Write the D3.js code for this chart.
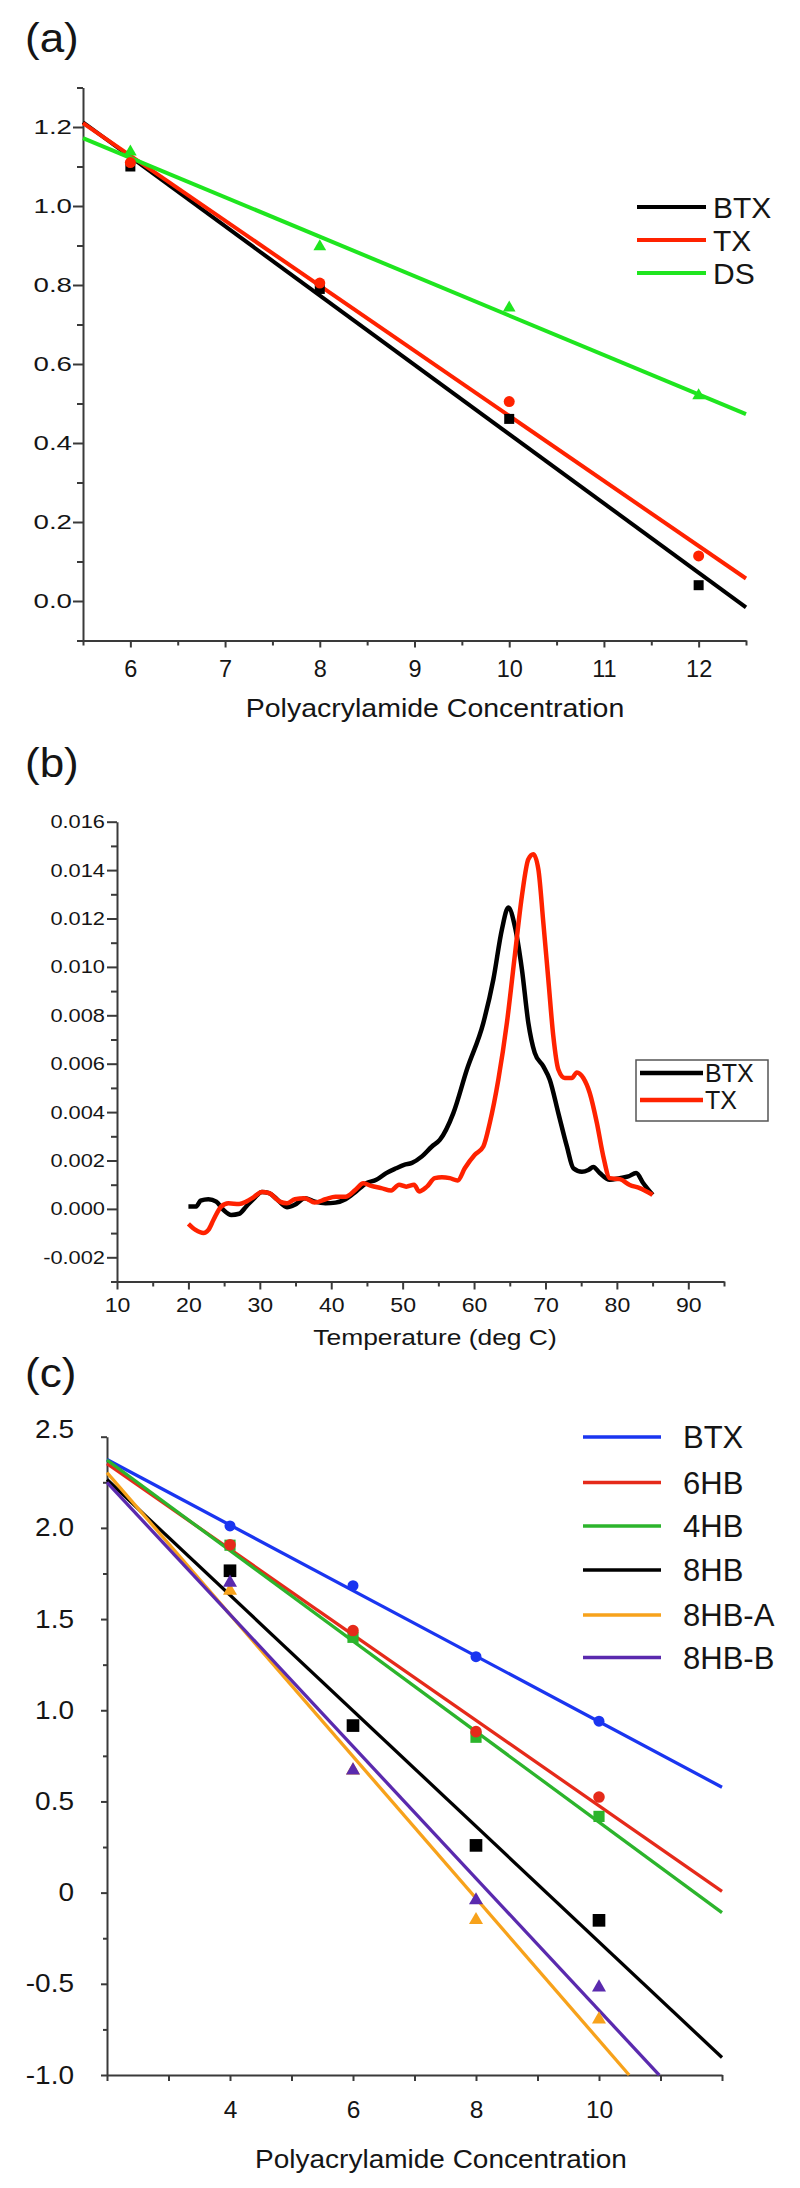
<!DOCTYPE html>
<html><head><meta charset="utf-8">
<script src="https://cdn.jsdelivr.net/npm/d3@7"></script>
<style>
html,body{margin:0;padding:0;background:#fff;}
svg{display:block;font-family:"Liberation Sans",Arial,sans-serif;}
</style></head><body>
<svg id="chart" width="800" height="2188"></svg>
<script>
// ================= DATA =================
// Panel (a)
const aConc = [6, 8, 10, 12];
const aBTX = [1.10, 0.79, 0.461, 0.04];
const aTX  = [1.11, 0.805, 0.505, 0.114];
const aDS  = [1.137, 0.897, 0.742, 0.52];
const aFitX   = [5.5, 12.5];
const aFitBTX = [1.212, -0.016];
const aFitTX  = [1.210, 0.057];
const aFitDS  = [1.172, 0.473];
const aNames = ["BTX", "TX", "DS"];
const aYTicks = [0.0, 0.2, 0.4, 0.6, 0.8, 1.0, 1.2];
const aYTickLabels = ["0.0", "0.2", "0.4", "0.6", "0.8", "1.0", "1.2"];
const aYMinor = [-0.1, 0.1, 0.3, 0.5, 0.7, 0.9, 1.1, 1.3];
const aXTicks = [6, 7, 8, 9, 10, 11, 12];
const aXMinor = [5.5, 6.5, 7.5, 8.5, 9.5, 10.5, 11.5, 12.5];

// Panel (b)
const bTempBTX = [20, 21.1, 21.7, 22.8, 23.9, 24.9, 26, 27.1, 28.1, 29.2, 30.3, 31.3, 32.4, 33.8, 34.9, 36.3, 37.7, 39.2, 40.6, 42, 43.4, 44.9, 46.3, 47.7, 49.1, 50.2, 51.3, 52.7, 54.1, 55.2, 57.1, 59.0, 61.3, 62.7, 63.9, 64.8, 65.7, 66.7, 67.6, 68.5, 69.7, 70.6, 71.8, 73.0, 73.9, 75.1, 76.0, 76.7, 77.6, 79.0, 80.4, 81.6, 82.7, 83.7, 85];
const bBTX = [0.0001, 0.0001, 0.00034, 0.0004, 0.0003, -0.00004, -0.00025, -0.0002, 0.0001, 0.00044, 0.0007, 0.00065, 0.0004, 0.00007, 0.00017, 0.00044, 0.0003, 0.00023, 0.00026, 0.0004, 0.0007, 0.00106, 0.0012, 0.00148, 0.00168, 0.00182, 0.0019, 0.00217, 0.00258, 0.00285, 0.00396, 0.00576, 0.00769, 0.00948, 0.01155, 0.01245, 0.01169, 0.0099, 0.00769, 0.00645, 0.00589, 0.00534, 0.00396, 0.00258, 0.00168, 0.00154, 0.00161, 0.00173, 0.00148, 0.0012, 0.00127, 0.00134, 0.00148, 0.00106, 0.00058];
const bTempTX = [20, 21, 22.1, 22.8, 23.5, 24.6, 25.6, 27.1, 28.1, 29.2, 30.3, 31.3, 32.8, 33.8, 34.9, 36.3, 37.7, 39.2, 40.6, 42, 43.4, 44.5, 45.6, 47, 48.4, 49.5, 50.5, 51.6, 52.3, 53.4, 54.5, 55.5, 56.6, 57.7, 58.7, 60.1, 61.3, 62.2, 63.4, 64.6, 65.7, 66.7, 67.6, 68.3, 69.0, 69.7, 70.4, 71.1, 71.8, 72.7, 73.7, 74.4, 75.3, 76.2, 77.2, 78.1, 79.0, 80.4, 81.8, 83.2, 85];
const bTX = [-0.00062, -0.00087, -0.001, -0.00087, -0.00046, 0.0001, 0.00023, 0.0002, 0.0003, 0.0005, 0.0007, 0.00065, 0.0003, 0.00023, 0.0004, 0.00044, 0.00026, 0.0004, 0.0005, 0.0005, 0.00079, 0.00106, 0.00095, 0.00086, 0.00076, 0.001, 0.00092, 0.001, 0.00072, 0.00092, 0.00127, 0.00131, 0.00127, 0.00117, 0.00168, 0.00224, 0.00258, 0.00355, 0.00534, 0.00769, 0.01045, 0.01293, 0.01445, 0.01466, 0.01404, 0.01183, 0.00948, 0.00713, 0.00576, 0.00541, 0.00541, 0.00564, 0.00541, 0.00479, 0.00355, 0.00217, 0.00127, 0.00123, 0.00099, 0.00086, 0.00058];
const bNames = ["BTX", "TX"];
const bYTicks = [-0.002, 0, 0.002, 0.004, 0.006, 0.008, 0.010, 0.012, 0.014, 0.016];
const bYTickLabels = ["-0.002", "0.000", "0.002", "0.004", "0.006", "0.008", "0.010", "0.012", "0.014", "0.016"];
const bYMinor = [-0.003, -0.001, 0.001, 0.003, 0.005, 0.007, 0.009, 0.011, 0.013, 0.015];
const bXTicks = [10, 20, 30, 40, 50, 60, 70, 80, 90];
const bXMinor = [15, 25, 35, 45, 55, 65, 75, 85, 95];

// Panel (c)
const cConc = [4, 6, 8, 10];
const cBTX  = [2.011, 1.683, 1.294, 0.94];
const c6HB  = [1.907, 1.437, 0.883, 0.524];
const c4HB  = [1.905, 1.40, 0.852, 0.418];
const c8HB  = [1.765, 0.916, 0.259, -0.152];
const c8HBA = [1.655, 0.67, -0.15, -0.695];
const c8HBB = [1.70, 0.67, -0.042, -0.52];
const cNames = ["BTX", "6HB", "4HB", "8HB", "8HB-A", "8HB-B"];
const cFitX0 = [2, 2, 2, 2, 2, 2];
const cFitX1 = [12, 12, 12, 12, 10.49, 10.98];
const cFitY0 = [2.375, 2.352, 2.372, 2.265, 2.303, 2.249];
const cFitY1 = [0.578, 0.007, -0.11, -0.904, -1.0, -1.0];
const cYTicks = [-1.0, -0.5, 0, 0.5, 1.0, 1.5, 2.0, 2.5];
const cYTickLabels = ["-1.0", "-0.5", "0", "0.5", "1.0", "1.5", "2.0", "2.5"];
const cYMinor = [-0.75, -0.25, 0.25, 0.75, 1.25, 1.75, 2.25];
const cXTicks = [2, 3, 4, 5, 6, 7, 8, 9, 10, 11, 12];
const cXLabeled = [4, 6, 8, 10];

// ================= DRAWING =================
const svg = d3.select("#chart");
const FONT = '"Liberation Sans", Arial, sans-serif';
const AXIS_COLOR = "#3a3a3a";
const TEXT_COLOR = "#151515";

function stretchText(sel, sx) {
  sel.each(function () {
    const t = d3.select(this);
    const x = +(t.attr("x") || 0);
    t.attr("x", x / sx).attr("transform", `scale(${sx},1)`);
  });
}
function label(text, x, y, size, sx, anchor) {
  svg.append("text")
    .attr("transform", `translate(${x},${y}) scale(${sx},1)`)
    .attr("text-anchor", anchor || "middle")
    .attr("font-family", FONT)
    .attr("font-size", size).attr("fill", TEXT_COLOR).text(text);
}
function styleAxis(g, fontSize) {
  g.attr("font-family", FONT).attr("font-size", fontSize);
  g.select(".domain").attr("stroke", AXIS_COLOR).attr("stroke-width", 2);
  g.selectAll(".tick line").attr("stroke", AXIS_COLOR).attr("stroke-width", 2);
  g.selectAll(".tick text").attr("fill", TEXT_COLOR);
}
function minorAxis(axisFn, scale, vals, size, transform) {
  const g = svg.append("g").attr("transform", transform)
    .call(axisFn(scale).tickValues(vals).tickSize(size).tickFormat(""));
  g.select(".domain").remove();
  g.selectAll(".tick line").attr("stroke", AXIS_COLOR).attr("stroke-width", 2);
}

// ---------- Panel (a) ----------
{
  const x = d3.scaleLinear().domain([5.5, 12.5]).range([83, 746]);
  const y = d3.scaleLinear().domain([-0.1, 1.3]).range([640.5, 87.5]);
  label("(a)", 25, 52, 40, 1.1, "start");

  minorAxis(d3.axisLeft, y, aYMinor, 6, `translate(${x(5.5)},0)`);
  minorAxis(d3.axisBottom, x, aXMinor, 5, `translate(0,${y(-0.1)})`);
  const gy = svg.append("g").attr("transform", `translate(${x(5.5)},0)`)
    .call(d3.axisLeft(y).tickValues(aYTicks).tickSize(10).tickSizeOuter(0).tickPadding(1)
      .tickFormat((d, i) => aYTickLabels[i]));
  styleAxis(gy, 20.5);
  stretchText(gy.selectAll(".tick text"), 1.35);
  const gx = svg.append("g").attr("transform", `translate(0,${y(-0.1)})`)
    .call(d3.axisBottom(x).tickValues(aXTicks).tickSize(7).tickSizeOuter(0).tickPadding(13)
      .tickFormat(d3.format("d")));
  styleAxis(gx, 23.5);
  label("Polyacrylamide Concentration", 435, 717, 25, 1.14);

  const colors = ["#000000", "#ff2200", "#1fe51f"];
  const fits = [aFitBTX, aFitTX, aFitDS];
  const vals = [aBTX, aTX, aDS];
  const line = d3.line().x(d => x(d[0])).y(d => y(d[1]));
  fits.forEach((f, i) => {
    svg.append("path").attr("d", line(aFitX.map((xv, k) => [xv, f[k]])))
      .attr("fill", "none").attr("stroke", colors[i]).attr("stroke-width", 4);
  });
  const syms = [d3.symbol().type(d3.symbolSquare).size(100),
                d3.symbol().type(d3.symbolCircle).size(95),
                d3.symbol().type(d3.symbolTriangle).size(70)];
  vals.forEach((v, i) => {
    svg.append("g").selectAll("path").data(aConc).join("path")
      .attr("transform", (c, k) => `translate(${x(c)},${y(v[k])})`)
      .attr("d", syms[i]()).attr("fill", colors[i]);
  });
  // legend
  const ly = [207, 240, 273];
  aNames.forEach((n, i) => {
    svg.append("line").attr("x1", 637).attr("x2", 706).attr("y1", ly[i]).attr("y2", ly[i])
      .attr("stroke", colors[i]).attr("stroke-width", 4);
    label(n, 713, ly[i] + 11, 30, 1, "start");
  });
}

// ---------- Panel (b) ----------
{
  const x = d3.scaleLinear().domain([10, 95]).range([117, 724]);
  const y = d3.scaleLinear().domain([-0.003, 0.016]).range([1281.5, 821.7]);
  label("(b)", 25, 777, 40, 1.1, "start");

  minorAxis(d3.axisLeft, y, bYMinor, 6, `translate(${x(10)},0)`);
  minorAxis(d3.axisBottom, x, bXMinor, 5, `translate(0,${y(-0.003)})`);
  const gy = svg.append("g").attr("transform", `translate(${x(10)},0)`)
    .call(d3.axisLeft(y).tickValues(bYTicks).tickSize(10).tickSizeOuter(0).tickPadding(2)
      .tickFormat((d, i) => bYTickLabels[i]));
  styleAxis(gy, 18.5);
  stretchText(gy.selectAll(".tick text"), 1.18);
  const gx = svg.append("g").attr("transform", `translate(0,${y(-0.003)})`)
    .call(d3.axisBottom(x).tickValues(bXTicks).tickSize(8).tickSizeOuter(0).tickPadding(8)
      .tickFormat(d3.format("d")));
  styleAxis(gx, 21);
  stretchText(gx.selectAll(".tick text"), 1.1);
  label("Temperature (deg C)", 435, 1345, 22, 1.2);

  const line = d3.line().x(d => x(d[0])).y(d => y(d[1])).curve(d3.curveMonotoneX);
  const colors = ["#000000", "#ff2200"];
  svg.append("path").attr("d", line(bTempBTX.map((t, i) => [t, bBTX[i]])))
    .attr("fill", "none").attr("stroke", colors[0]).attr("stroke-width", 4.5)
    .attr("stroke-linejoin", "round");
  svg.append("path").attr("d", line(bTempTX.map((t, i) => [t, bTX[i]])))
    .attr("fill", "none").attr("stroke", colors[1]).attr("stroke-width", 4.5)
    .attr("stroke-linejoin", "round");
  // legend
  svg.append("rect").attr("x", 636).attr("y", 1060).attr("width", 132).attr("height", 61)
    .attr("fill", "#fff").attr("stroke", "#555").attr("stroke-width", 1.5);
  const ly = [1073, 1100];
  bNames.forEach((n, i) => {
    svg.append("line").attr("x1", 640).attr("x2", 703).attr("y1", ly[i]).attr("y2", ly[i])
      .attr("stroke", colors[i]).attr("stroke-width", 4.5);
    label(n, 705, ly[i] + 9, 25, 1, "start");
  });
}

// ---------- Panel (c) ----------
{
  const x = d3.scaleLinear().domain([2, 12]).range([107, 722]);
  const y = d3.scaleLinear().domain([-1, 2.5]).range([2075, 1436.7]);
  label("(c)", 25, 1387, 40, 1.1, "start");

  minorAxis(d3.axisLeft, y, cYMinor, 4, `translate(${x(2)},0)`);
  const gy = svg.append("g").attr("transform", `translate(${x(2)},0)`)
    .call(d3.axisLeft(y).tickValues(cYTicks).tickSize(6).tickSizeOuter(0).tickPadding(27)
      .tickFormat((d, i) => cYTickLabels[i]));
  styleAxis(gy, 25);
  stretchText(gy.selectAll(".tick text"), 1.12);
  gy.selectAll(".tick text").filter(d => d === 2.5).attr("dy", "0.05em");
  const gx = svg.append("g").attr("transform", `translate(0,${y(-1)})`)
    .call(d3.axisBottom(x).tickValues(cXTicks).tickSize(6).tickSizeOuter(0).tickPadding(20)
      .tickFormat(d => cXLabeled.includes(d) ? String(d) : ""));
  styleAxis(gx, 24.5);
  label("Polyacrylamide Concentration", 441, 2168, 25, 1.12);

  const colors = ["#1a35f0", "#e52a1a", "#2cb42c", "#000000", "#f7a21b", "#5a2aae"];
  const vals = [cBTX, c6HB, c4HB, c8HB, c8HBA, c8HBB];
  const line = d3.line().x(d => x(d[0])).y(d => y(d[1]));
  cNames.forEach((n, i) => {
    svg.append("path")
      .attr("d", line([[cFitX0[i], cFitY0[i]], [cFitX1[i], cFitY1[i]]]))
      .attr("fill", "none").attr("stroke", colors[i]).attr("stroke-width", 3.3);
  });
  const syms = [d3.symbol().type(d3.symbolCircle).size(95),
                d3.symbol().type(d3.symbolCircle).size(105),
                d3.symbol().type(d3.symbolSquare).size(125),
                d3.symbol().type(d3.symbolSquare).size(160),
                d3.symbol().type(d3.symbolTriangle).size(85),
                d3.symbol().type(d3.symbolTriangle).size(85)];
  const drawOrder = [0, 2, 1, 3, 4, 5];
  drawOrder.forEach(i => {
    svg.append("g").selectAll("path").data(cConc).join("path")
      .attr("transform", (c, k) => `translate(${x(c)},${y(vals[i][k])})`)
      .attr("d", syms[i]()).attr("fill", colors[i]);
  });
  // legend
  const ly = [1437, 1482.5, 1526, 1570, 1615, 1657.5];
  cNames.forEach((n, i) => {
    svg.append("line").attr("x1", 583).attr("x2", 661).attr("y1", ly[i]).attr("y2", ly[i])
      .attr("stroke", colors[i]).attr("stroke-width", 3.5);
    label(n, 683, ly[i] + 11, 31, 1, "start");
  });
}
</script></body></html>
